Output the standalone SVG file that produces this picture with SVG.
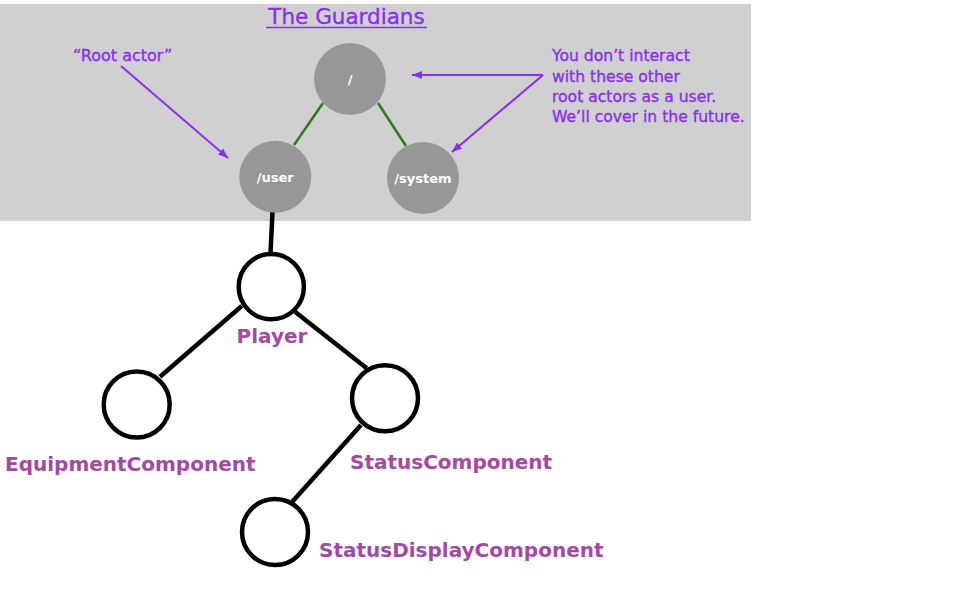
<svg xmlns="http://www.w3.org/2000/svg" width="956" height="592" viewBox="0 0 956 592">
<style>
.note{font-family:"DejaVu Sans","Liberation Sans",sans-serif;fill:#8b2ef0;stroke:#8b2ef0;stroke-width:0.35;}
.gnode{fill:#979797;}
.glabel{font-family:"DejaVu Sans","Liberation Sans",sans-serif;font-weight:bold;font-size:13px;fill:#ffffff;text-anchor:middle;}
.bnode{fill:#ffffff;stroke:#000000;stroke-width:4.5;}
.blabel{font-family:"DejaVu Sans","Liberation Sans",sans-serif;font-weight:bold;font-size:20px;fill:#a349a4;}
.green{stroke:#2e7a1c;stroke-width:2.5;fill:none;}
.black{stroke:#000000;stroke-width:4.5;fill:none;}
.parrow{stroke:#8b2ef0;stroke-width:2;fill:none;marker-end:url(#ah);}
</style>
<defs>
<marker id="ah" markerUnits="userSpaceOnUse" markerWidth="12" markerHeight="10" refX="10" refY="5" orient="auto">
<path d="M0,1 L10,5 L0,9 Z" fill="#8b2ef0"/>
</marker>
</defs>
<rect x="0" y="4" width="751" height="217" fill="#d0d0d0"/>
<text class="note" x="346.5" y="24" font-size="21.5" text-anchor="middle">The Guardians</text>
<line x1="266" y1="27.5" x2="427" y2="27.5" stroke="#8b2ef0" stroke-width="1.5"/>
<text class="note" x="73" y="61" font-size="16">“Root actor”</text>
<text class="note" x="552" y="61" font-size="15.6">You don’t interact</text>
<text class="note" x="552" y="82" font-size="15.6">with these other</text>
<text class="note" x="552" y="102" font-size="15.6">root actors as a user.</text>
<text class="note" x="552" y="122" font-size="15.6">We’ll cover in the future.</text>
<g id="connectors">
<line class="green" x1="323" y1="103" x2="294" y2="145"/>
<line class="green" x1="378" y1="103" x2="406" y2="146"/>
<line class="parrow" x1="121" y1="66" x2="228" y2="158"/>
<line class="parrow" x1="543" y1="75" x2="412" y2="75"/>
<line class="parrow" x1="543" y1="75" x2="452" y2="152"/>
<line class="black" x1="272.5" y1="212" x2="270.5" y2="253"/>
<line class="black" x1="241.7" y1="306" x2="160" y2="376.7"/>
<line class="black" x1="295" y1="311.7" x2="366.7" y2="368.3"/>
<line class="black" x1="361" y1="425" x2="292.3" y2="501.7"/>
</g>
<g id="root">
<circle class="gnode" cx="350" cy="79" r="36"/>
<text class="glabel" x="350" y="84">/</text>
</g>
<g id="user">
<circle class="gnode" cx="275.3" cy="176.7" r="36"/>
<text class="glabel" x="275.3" y="182">/user</text>
</g>
<g id="system">
<circle class="gnode" cx="423" cy="178" r="36"/>
<text class="glabel" x="423" y="183">/system</text>
</g>
<g id="player">
<circle class="bnode" cx="271.3" cy="286.7" r="32.6"/>
<text class="blabel" x="272" y="343" text-anchor="middle" font-size="19">Player</text>
</g>
<g id="equipment">
<circle class="bnode" cx="136.7" cy="404.5" r="33"/>
<text class="blabel" x="5" y="471" font-size="20.8">EquipmentComponent</text>
</g>
<g id="status">
<circle class="bnode" cx="385" cy="398.3" r="33"/>
<text class="blabel" x="350" y="469">StatusComponent</text>
</g>
<g id="statusdisplay">
<circle class="bnode" cx="275" cy="532" r="33"/>
<text class="blabel" x="319" y="557">StatusDisplayComponent</text>
</g>
</svg>
